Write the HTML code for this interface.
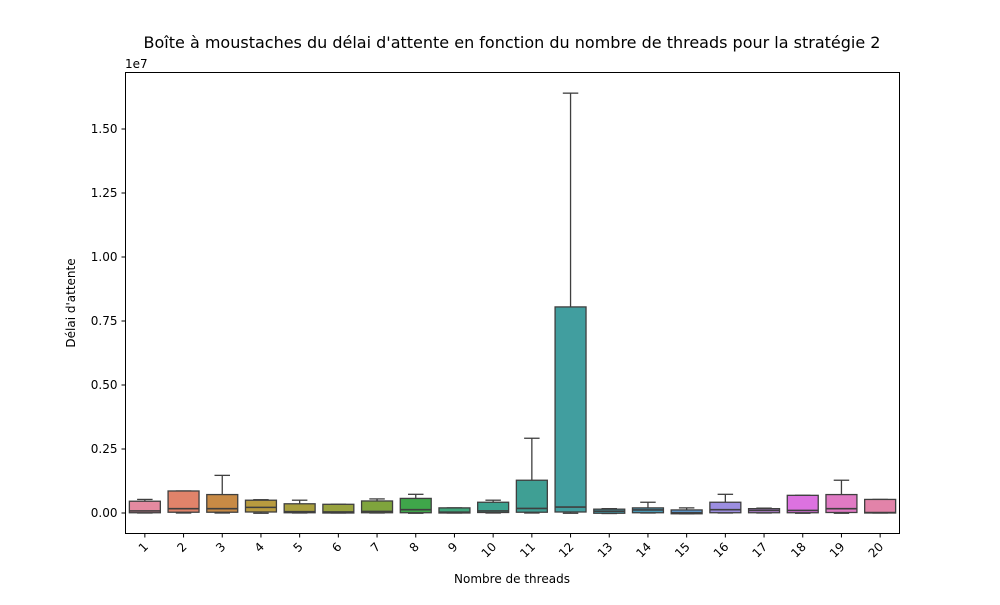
<!DOCTYPE html>
<html><head><meta charset="utf-8"><style>
body{margin:0;background:#fff;font-family:"Liberation Sans","DejaVu Sans",sans-serif}
svg text{font-family:"DejaVu Sans","Liberation Sans",sans-serif}
</style></head><body>
<svg id="chart" width="1000" height="600" xmlns="http://www.w3.org/2000/svg">
<rect width="1000" height="600" fill="#fff"/>
<text x="512" y="48" font-size="16" text-anchor="middle">Boîte à moustaches du délai d'attente en fonction du nombre de threads pour la stratégie 2</text>
<text x="125" y="68" font-size="12">1e7</text>
<text x="512" y="583" font-size="12" text-anchor="middle">Nombre de threads</text>
<text transform="translate(75,303) rotate(-90)" font-size="12" text-anchor="middle">Délai d'attente</text>
<g id="marks"></g>
<g id="axes"></g>
<rect x="125.5" y="72.5" width="774" height="461" fill="none" stroke="#000" stroke-width="1"/>
</svg>
<script>
const categories=["1","2","3","4","5","6","7","8","9","10","11","12","13","14","15","16","17","18","19","20"];
const whiskerLow=[0,0,0,-0.01,0,0,0,-0.01,0,0,0,-0.01,-0.02,0,-0.03,0,0,-0.01,-0.01,0];
const q1=[0.01,0.03,0.03,0.04,0.01,0,0.01,0.01,0,0.02,0.03,0.04,-0.01,0.01,-0.03,0.01,0.01,0.01,0.02,0];
const median=[0.08,0.17,0.17,0.22,0.05,0.04,0.06,0.13,0.03,0.08,0.18,0.23,0.07,0.12,0.01,0.13,0.1,0.1,0.17,0.02];
const q3=[0.46,0.86,0.72,0.5,0.36,0.34,0.47,0.57,0.2,0.42,1.28,8.05,0.15,0.2,0.12,0.42,0.17,0.69,0.72,0.53];
const whiskerHigh=[0.53,0.86,1.47,0.52,0.5,0.34,0.55,0.73,0.2,0.5,2.92,16.4,0.17,0.42,0.2,0.73,0.19,0.69,1.28,0.53];
const yTicks=[0,0.25,0.5,0.75,1.0,1.25,1.5];
const colors=["#e48aa0","#e1836a","#c88a45","#b89b3f","#a99f3e","#98a23e","#7fa43d","#3fa64a","#3ea57a","#3da28f","#3f9f94","#419e9f","#429ba9","#4898b6","#5b93c6","#9c8ee0","#b884da","#dc72e0","#e07ac4","#e283a9"];
const L=125.5,R=899.5,T=72.5,B=533.5;
const y=v=>513-v*25.6; // v in millions
const bw=(R-L)/categories.length;
const x=i=>L+bw*(i+0.5);
const NS="http://www.w3.org/2000/svg";
const marks=document.getElementById('marks'),axes=document.getElementById('axes');
function mk(p,tag,attrs){const e=document.createElementNS(NS,tag);for(const k in attrs)e.setAttribute(k,attrs[k]);p.appendChild(e);return e;}
categories.forEach((c,i)=>{
  const g=mk(marks,'g',{});
  
  
  const cx=x(i),hw=bw*0.4,cw=bw*0.2,st='#3f3f3f';
  mk(g,'line',{x1:cx,x2:cx,y1:y(q3[i]),y2:y(whiskerHigh[i]),stroke:st,'stroke-width':1.3});
  mk(g,'line',{x1:cx,x2:cx,y1:y(q1[i]),y2:y(whiskerLow[i]),stroke:st,'stroke-width':1.3});
  mk(g,'line',{x1:cx-cw,x2:cx+cw,y1:y(whiskerHigh[i]),y2:y(whiskerHigh[i]),stroke:st,'stroke-width':1.3});
  mk(g,'line',{x1:cx-cw,x2:cx+cw,y1:y(whiskerLow[i]),y2:y(whiskerLow[i]),stroke:st,'stroke-width':1.3});
  mk(g,'rect',{x:cx-hw,y:y(q3[i]),width:2*hw,height:Math.max(1,y(q1[i])-y(q3[i])),fill:colors[i],stroke:st,'stroke-width':1.3});
  mk(g,'line',{x1:cx-hw,x2:cx+hw,y1:y(median[i]),y2:y(median[i]),stroke:st,'stroke-width':1.6});
  const t=mk(axes,'line',{x1:cx,x2:cx,y1:B,y2:B+4,stroke:'#000'});
  
  
  const lb=mk(axes,'text',{'font-size':12,'text-anchor':'end',transform:`translate(${cx+4},${B+14}) rotate(-45)`});
  
  
  lb.textContent=c;
});
yTicks.forEach(v=>{
  const yy=y(v*10);
  const t=mk(axes,'line',{x1:L-4,x2:L,y1:yy,y2:yy,stroke:'#000'});
  
  
  const lb=mk(axes,'text',{x:L-8,y:yy+4,'font-size':12,'text-anchor':'end'});
  
  
  lb.textContent=v.toFixed(2);
});
</script>
</body></html>
